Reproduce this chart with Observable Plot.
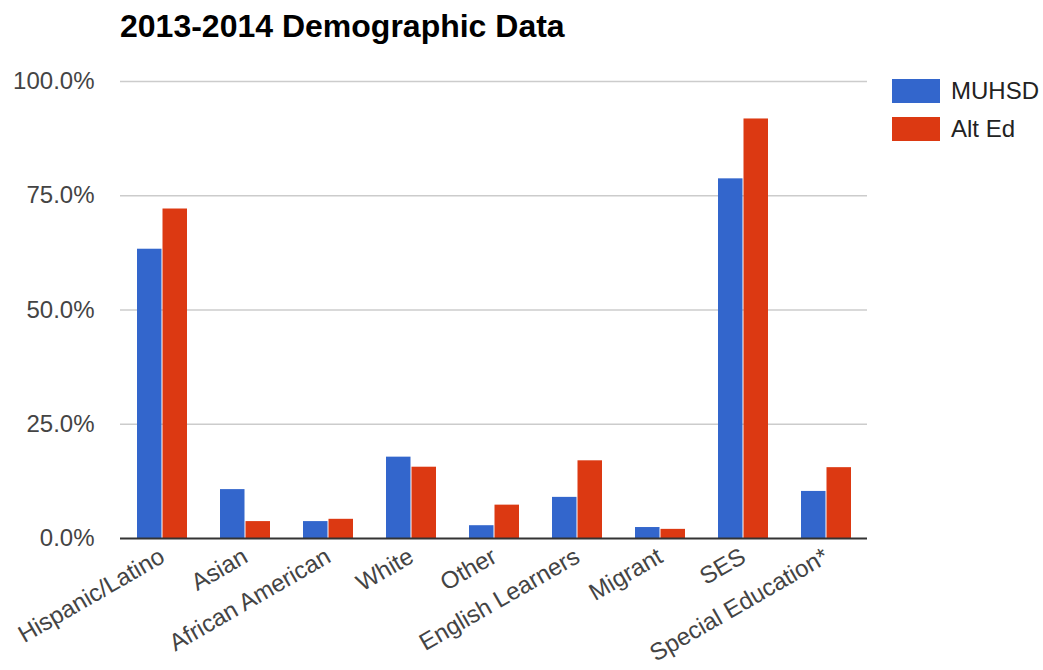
<!DOCTYPE html>
<html>
<head>
<meta charset="utf-8">
<script src="https://cdn.jsdelivr.net/npm/d3@7"></script>
<script src="https://cdn.jsdelivr.net/npm/@observablehq/plot@0.6"></script>
<style>
  body { margin: 0; background: #fff; }
  #wrap { position: relative; width: 1043px; height: 670px; font-family: "Liberation Sans", Arial, sans-serif; }
  #title { height: 50px; box-sizing: border-box; padding: 10px 0 0 120px; font-size: 32px; line-height: 32px; font-weight: bold; color: #000; }
  #legend { position: absolute; left: 892px; top: 79px; font-size: 24px; color: #222; }
  .item { display: flex; align-items: center; height: 24px; margin-bottom: 14px; }
  .sw { width: 48px; height: 24px; margin-right: 11px; }
</style>
</head>
<body>
<div id="wrap">
  <div id="title">2013-2014 Demographic Data</div>
  <div id="chart"></div>
  <div id="legend"></div>
</div>
<script>
const categories = ["Hispanic/Latino", "Asian", "African American", "White", "Other", "English Learners", "Migrant", "SES", "Special Education*"];
const seriesNames = ["MUHSD", "Alt Ed"];
const muhsd = [0.633, 0.107, 0.037, 0.178, 0.028, 0.090, 0.024, 0.787, 0.103];
const altEd = [0.721, 0.037, 0.042, 0.156, 0.073, 0.170, 0.020, 0.918, 0.155];
const yTicks = [0, 0.25, 0.5, 0.75, 1];
const colors = ["#3366cc", "#dc3912"];

const rowsA = categories.map((c, i) => ({category: c, value: muhsd[i]}));
const rowsB = categories.map((c, i) => ({category: c, value: altEd[i]}));

const chart = Plot.plot({
  width: 1043,
  height: 620,
  marginLeft: 120,
  marginRight: 176,
  marginTop: 31,
  marginBottom: 132,
  style: {fontFamily: "'Liberation Sans', Arial, sans-serif", fontSize: "24px", color: "#444", background: "#fff"},
  x: {domain: categories, paddingInner: 0.4, paddingOuter: 0.2, tickRotate: -30, tickSize: 0, tickPadding: 16, label: null},
  y: {domain: [0, 1], ticks: yTicks, tickFormat: ".1%", tickSize: 0, tickPadding: 26, label: null},
  marks: [
    Plot.ruleY(yTicks.filter(d => d > 0), {stroke: "#cccccc", strokeWidth: 1.5}),
    Plot.barY(rowsA, {x: "category", y: "value", fill: colors[0], insetRight: 25.5}),
    Plot.barY(rowsB, {x: "category", y: "value", fill: colors[1], insetLeft: 25.5}),
    Plot.ruleY([0], {stroke: "#333333", strokeWidth: 2})
  ]
});
document.getElementById("chart").appendChild(chart);

const legend = document.getElementById("legend");
seriesNames.forEach((name, i) => {
  const item = document.createElement("div");
  item.className = "item";
  const sw = document.createElement("div");
  sw.className = "sw";
  sw.style.background = colors[i];
  const label = document.createElement("span");
  label.textContent = name;
  item.appendChild(sw);
  item.appendChild(label);
  legend.appendChild(item);
});
</script>
</body>
</html>
